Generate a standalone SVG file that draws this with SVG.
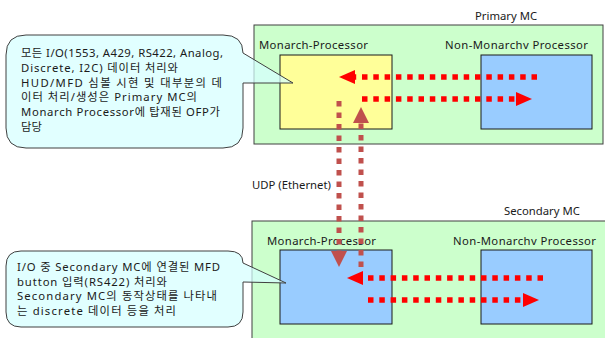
<svg xmlns="http://www.w3.org/2000/svg" width="605" height="338" viewBox="0 0 605 338">
  <style>
    text { font-family: "Noto Sans", "Noto Sans CJK KR", sans-serif; font-size: 11.3px; fill: #1a1a1a; }
    .mc { fill: #CCFFCC; stroke: #404040; stroke-width: 1; }
    .proc { stroke: #1a1a1a; stroke-width: 1; }
    .callout { fill: #D6FFFF; fill-opacity: 0.72; stroke: #404040; stroke-width: 1; }
    .link { fill: none; stroke: #FF0000; stroke-width: 5.5; stroke-dasharray: 5.5 5.8; }
    .udp { fill: none; stroke: #C0504D; stroke-width: 5; stroke-dasharray: 5.5 6; }
  </style>
  <defs>
    <marker id="head-red" markerUnits="userSpaceOnUse" markerWidth="17" markerHeight="15" refX="0" refY="7" orient="auto">
      <path d="M0,0 L16,7 L0,14 Z" fill="#FF0000"/>
    </marker>
    <marker id="head-udp" markerUnits="userSpaceOnUse" markerWidth="17" markerHeight="17" refX="0" refY="8" orient="auto">
      <path d="M0,0 L16,8 L0,16 Z" fill="#C0504D"/>
    </marker>
  </defs>

  <rect width="605" height="338" fill="#FFFFFF"/>

  <!-- Primary MC -->
  <g id="primary-mc">
    <rect class="mc" x="254" y="25" width="349" height="119"/>
    <text x="475" y="20">Primary MC</text>
  </g>
  <g id="primary-monarch">
    <text x="259" y="49" textLength="109" lengthAdjust="spacing">Monarch-Processor</text>
    <rect class="proc" x="280" y="55" width="112" height="74" fill="#FFFF99"/>
  </g>
  <g id="primary-non-monarch">
    <text x="445" y="49" textLength="143" lengthAdjust="spacing">Non-Monarchv Processor</text>
    <rect class="proc" x="481" y="55" width="111" height="74" fill="#99CCFF"/>
  </g>

  <!-- Secondary MC -->
  <g id="secondary-mc">
    <rect class="mc" x="252" y="221" width="360" height="125"/>
    <text x="504" y="215">Secondary MC</text>
  </g>
  <g id="secondary-monarch">
    <text x="267" y="245" textLength="109" lengthAdjust="spacing">Monarch-Processor</text>
    <rect class="proc" x="280" y="250" width="112" height="74" fill="#99CCFF"/>
  </g>
  <g id="secondary-non-monarch">
    <text x="453" y="245" textLength="143" lengthAdjust="spacing">Non-Monarchv Processor</text>
    <rect class="proc" x="481" y="250" width="111" height="74" fill="#99CCFF"/>
  </g>

  <!-- Notes -->
  <g id="note-primary">
    <path class="callout" d="M26,35 H223 Q243,35 243,53 L293,83 L243,83 V128 Q243,148 223,148 H26 Q6,148 6,128 V55 Q6,35 26,35 Z"/>
    <text x="21" y="57" textLength="202" lengthAdjust="spacing">모든 I/O(1553, A429, RS422, Analog,</text>
    <text x="21" y="71.8" textLength="157" lengthAdjust="spacing">Discrete, I2C) 데이터 처리와</text>
    <text x="21" y="86.6" textLength="201" lengthAdjust="spacing">HUD/MFD 심볼 시현 및 대부분의 데</text>
    <text x="21" y="101.4" textLength="176" lengthAdjust="spacing">이터 처리/생성은 Primary MC의</text>
    <text x="21" y="116.2" textLength="199" lengthAdjust="spacing">Monarch Processor에 탑재된 OFP가</text>
    <text x="21" y="131">담당</text>
  </g>
  <g id="note-secondary">
    <path class="callout" d="M21,251 H228 Q243,251 243,263 L286,283 L243,282 V312 Q243,327 228,327 H21 Q6,327 6,312 V266 Q6,251 21,251 Z"/>
    <text x="17" y="271" textLength="203" lengthAdjust="spacing">I/O 중 Secondary MC에 연결된 MFD</text>
    <text x="17" y="285.7" textLength="150" lengthAdjust="spacing">button 입력(RS422) 처리와</text>
    <text x="17" y="300.4" textLength="200" lengthAdjust="spacing">Secondary MC의 동작상태를 나타내</text>
    <text x="17" y="315" textLength="159" lengthAdjust="spacing">는 discrete 데이터 등을 처리</text>
  </g>

  <text id="udp-label" x="252" y="189">UDP (Ethernet)</text>

  <!-- Connectors -->
  <g id="connectors">
    <path class="link" d="M537,77 H355" marker-end="url(#head-red)"/>
    <path class="link" d="M362,99 H516" marker-end="url(#head-red)"/>
    <path class="link" d="M543,278 H363" marker-end="url(#head-red)"/>
    <path class="link" d="M368,300 H523" marker-end="url(#head-red)"/>
    <path class="udp" d="M339,101 V251" marker-end="url(#head-udp)"/>
    <path class="udp" d="M361,267 V123" marker-end="url(#head-udp)"/>
  </g>
</svg>
